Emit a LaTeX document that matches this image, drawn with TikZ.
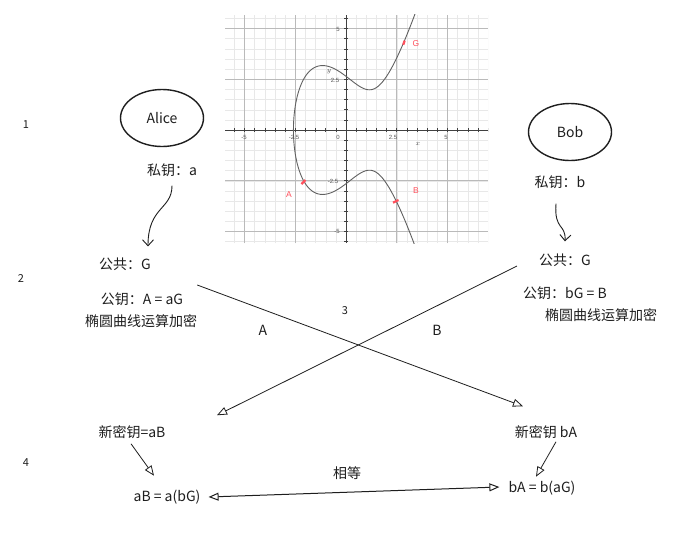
\documentclass[tikz,border=0pt]{standalone}
\usepackage{fontspec}
\setmainfont{Noto Sans CJK SC}
\newfontfamily\grfont{Liberation Sans}
\usetikzlibrary{arrows.meta,shapes.geometric}
\definecolor{ink}{HTML}{1E1E1E}
\definecolor{ptred}{RGB}{255,80,92}
\tikzset{
 txt/.style={font=\fontsize{14}{16}\selectfont, text=ink, inner sep=1pt},
 num/.style={font=\fontsize{11}{13}\selectfont, text=ink, inner sep=1pt},
 person/.style={ellipse, draw=ink, line width=1.4pt, minimum width=83pt, minimum height=57pt, inner sep=0pt, font=\fontsize{14}{16}\selectfont, text=ink},
 barb/.style={draw=ink, line width=0.9pt, -{Straight Barb[length=6pt,width=11pt]}},
 sendarrow/.style={draw=ink, line width=0.8pt, -{Triangle[open,length=10pt,width=8pt]}},
 botharrow/.style={draw=ink, line width=1pt, {Triangle[open,length=10pt,width=8pt]}-{Triangle[open,length=10pt,width=8pt]}},
 gminor/.style={draw=black!9, line width=0.4pt},
 gmajor/.style={draw=black!27, line width=0.6pt},
 gaxis/.style={draw=black!75, line width=0.8pt},
 gtick/.style={draw=black!75, line width=0.6pt},
 gcurve/.style={draw=black!62, line width=0.9pt},
 glabel/.style={font=\grfont\fontsize{6}{7}\selectfont, text=black!65, inner sep=0pt},
 redlabel/.style={font=\grfont\fontsize{8.5}{10}\selectfont, text=ptred, inner sep=0pt},
 redmark/.style={draw=ptred, line width=2.2pt},
}
\begin{document}
\begin{tikzpicture}[x=1pt,y=-1pt, declare function={ec(\x)=sqrt(max(0,\x*\x*\x-4*\x+7));}]
\useasboundingbox (0,0) rectangle (688,539);
\fill[white] (0,0) rectangle (688,539);

% ---- elliptic curve plot ----
\begin{scope}[shift={(346,130)}, x=20.3pt, y=20.3pt]
 \clip (-5.96,-5.57) rectangle (7.0,5.67);
 \foreach \i in {-11,...,14} \draw[gminor] (\i/2,-5.57) -- (\i/2,5.67);
 \foreach \j in {-11,...,11} \draw[gminor] (-5.96,\j/2) -- (7.0,\j/2);
 \foreach \v in {-5,-2.5,2.5,5} {
   \draw[gmajor] (\v,-5.57) -- (\v,5.67);
   \draw[gmajor] (-5.96,\v) -- (7.0,\v);
 }
 \draw[gaxis] (-5.96,0) -- (7.0,0);
 \draw[gaxis] (0,-5.57) -- (0,5.67);
 \foreach \i in {-11,...,14} \draw[gtick] (\i/2,-0.08) -- (\i/2,0.08);
 \foreach \j in {-11,...,11} \draw[gtick] (-0.08,\j/2) -- (0.08,\j/2);
 \draw[gcurve] plot[domain=0:2.45, samples=160, variable=\t] ({-2.5892+\t*\t},{ec(-2.5892+\t*\t)});
 \draw[gcurve] plot[domain=0:2.45, samples=160, variable=\t] ({-2.5892+\t*\t},{-ec(-2.5892+\t*\t)});
\end{scope}
\node[glabel] (tx1) at (244,137) {-5};
\node[glabel] (tx2) at (294,137) {-2.5};
\node[glabel] (tx3) at (338,137) {0};
\node[glabel] (tx4) at (393,137) {2.5};
\node[glabel] (tx5) at (446,137) {5};
\node[glabel] (ty1) at (338,29) {5};
\node[glabel] (ty2) at (335,80) {2.5};
\node[glabel] (ty3) at (333,181) {-2.5};
\node[glabel] (ty4) at (337,231) {-5};
\node[font=\fontsize{7.5}{8}\selectfont, text=black!70, inner sep=0pt] (xl) at (418,144) {$x$};
\node[font=\fontsize{7.5}{8}\selectfont, text=black!70, inner sep=0pt] (yl) at (329,72) {$y$};
\draw[redmark] (403.3,44.8) -- (404.7,40.6);
\draw[redmark] (301.5,184) -- (305.5,180);
\draw[redmark] (393,202.7) -- (398.5,200);
\node[redlabel] (lG) at (416,44) {G};
\node[redlabel] (lA) at (289,195) {A};
\node[redlabel] (lB) at (416,191) {B};

% ---- step numbers ----
\node[num] (n1) at (26,125) {1};
\node[num] (n2) at (21,278) {2};
\node[num] (n3) at (345,311) {3};
\node[num] (n4) at (26,463) {4};

% ---- Alice ----
\node[person] (alice) at (162,118) {Alice};
\node[txt] (privA) at (172,170) {私钥：a};
\node[txt] (pubGA) at (125,264) {公共：G};
\node[txt] (pubA) at (142,299) {公钥：A = aG};
\node[txt] (encA) at (141,321) {椭圆曲线运算加密};

% ---- Bob ----
\node[person] (bob) at (570,132) {Bob};
\node[txt] (privB) at (560,182) {私钥：b};
\node[txt] (pubGB) at (565,260) {公共：G};
\node[txt] (pubB) at (565,293) {公钥：bG = B};
\node[txt] (encB) at (601,315) {椭圆曲线运算加密};

% ---- exchange ----
\node[txt] (labA) at (263,330) {A};
\node[txt] (labB) at (437,330) {B};
\node[txt] (newA) at (132,432) {新密钥=aB};
\node[txt] (newB) at (546,432) {新密钥 bA};
\node[txt] (resA) at (167,497) {aB = a(bG)};
\node[txt] (resB) at (542,488) {bA = b(aG)};
\node[txt] (eq) at (347,473) {相等};

% ---- connectors ----
\draw[barb] ([shift={(0,8)}]privA.south) .. controls +(0,24) and +(0,-40) .. ([shift={(23,-10)}]pubGA.north);
\draw[barb] ([shift={(-4,14)}]privB.south) .. controls +(-2,27) and +(1,-18) .. ([shift={(0,-11)}]pubGB.north);
\draw[sendarrow] ([shift={(13,-14)}]pubA.east) -- ([shift={(-23,-18)}]newB.north);
\draw[sendarrow] ([shift={(-21,6)}]pubGB.west) -- ([shift={(85,-9)}]newA.north);
\draw[sendarrow] ([shift={(-1,4)}]newA.south) -- ([shift={(-13,-13)}]resA.north);
\draw[sendarrow] ([shift={(10,2)}]newB.south) -- ([shift={(-6,-3)}]resB.north);
\draw[botharrow] ([shift={(7,0)}]resA.east) -- ([shift={(-8,-1)}]resB.west);
\end{tikzpicture}
\end{document}
